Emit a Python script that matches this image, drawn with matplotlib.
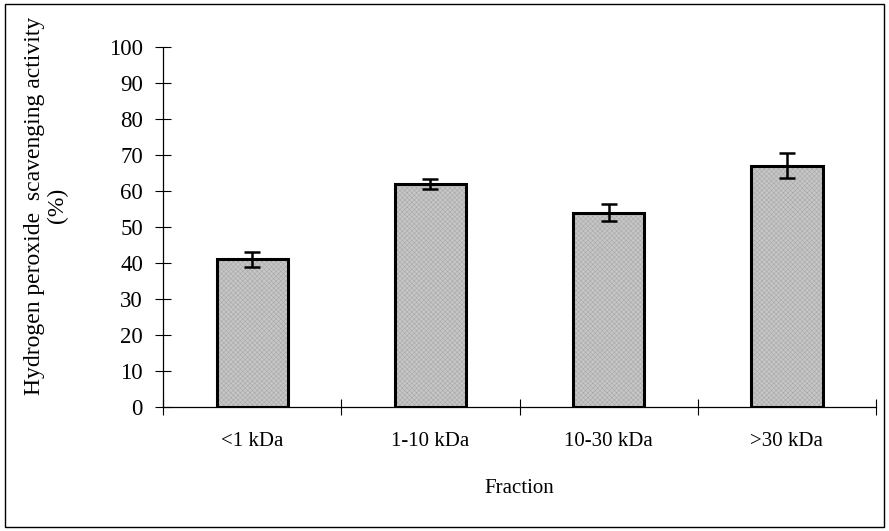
import matplotlib
matplotlib.use('Agg')
import matplotlib.pyplot as plt
from matplotlib.patches import Rectangle

# ── Datos ─────────────────────────────────────────────────────────────────────
fracciones = ['<1 kDa', '1-10 kDa', '10-30 kDa', '>30 kDa']
actividad = [41, 62, 54, 67]
error = [2.1, 1.4, 2.4, 3.5]
y_ticks = list(range(0, 101, 10))

plt.rcParams['font.family'] = ['Liberation Serif', 'DejaVu Serif']
plt.rcParams['hatch.linewidth'] = 0.4

fig = plt.figure(figsize=(8.89, 5.31), dpi=100)
ax = fig.add_axes([0.1834, 0.2335, 0.8020, 0.678])

x = range(len(fracciones))
# relleno con textura gris clara (el hatch usa el color del borde)
ax.bar(x, actividad, width=0.4, color='#c6c6c6', edgecolor='#a9a9a9',
       linewidth=0, hatch='xxxxxxx', zorder=2)
# contorno negro
ax.bar(x, actividad, width=0.4, fill=False, edgecolor='black',
       linewidth=2.2, zorder=2.5)
ax.errorbar(x, actividad, yerr=error, fmt='none', ecolor='black',
            elinewidth=1.8, capsize=6, capthick=1.8, zorder=3)

ax.set_xlim(-0.5, 3.5)
ax.set_ylim(0, 100)
ax.set_yticks(y_ticks)
ax.tick_params(axis='y', direction='inout', length=11, width=0.8,
               labelsize=16.5, pad=9)
ax.set_xticks(list(x))
ax.set_xticklabels(fracciones, fontsize=15)
ax.tick_params(axis='x', which='major', length=0, pad=18)
ax.set_xticks([-0.5, 0.5, 1.5, 2.5, 3.5], minor=True)
ax.tick_params(axis='x', which='minor', direction='inout', length=12, width=0.8)

for s in ['top', 'right']:
    ax.spines[s].set_visible(False)
for s in ['left', 'bottom']:
    ax.spines[s].set_linewidth(0.9)

ax.set_xlabel('Fraction', fontsize=15, labelpad=20)
ax.set_ylabel('Hydrogen peroxide  scavenging activity\n(%)', fontsize=17,
              linespacing=1.1)
ax.yaxis.set_label_coords(-0.133, 0.56)

# marco exterior
fig.patches.append(Rectangle((0.006, 0.008), 0.988, 0.984, transform=fig.transFigure,
                             fill=False, edgecolor='black', linewidth=1.0))

plt.savefig('out.png', dpi=100)
plt.close()
